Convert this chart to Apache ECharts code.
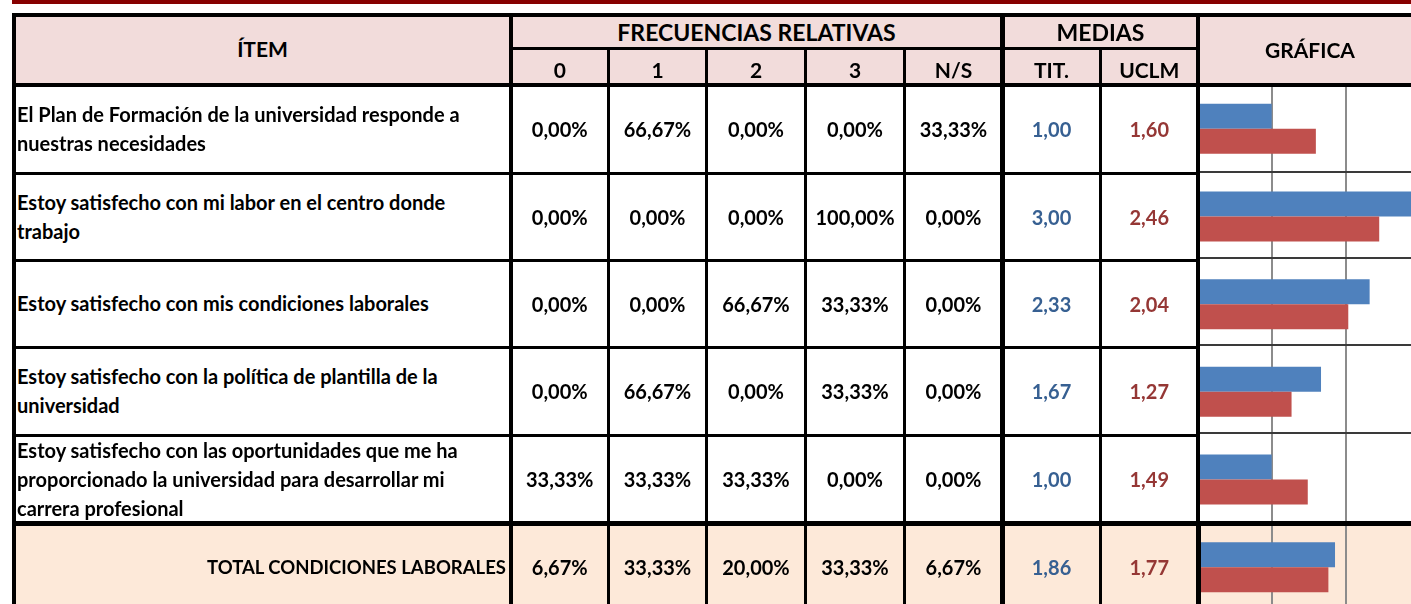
<!DOCTYPE html>
<html>
<head>
<meta charset="utf-8">
<script src="https://cdn.jsdelivr.net/npm/echarts@6/dist/echarts.min.js"></script>
<style>
html,body{margin:0;padding:0;width:1411px;height:604px;overflow:hidden;background:#fff;}
#page{position:relative;width:1411px;height:604px;overflow:hidden;font-family:Lato,'Noto Sans',sans-serif;font-weight:bold;color:#000;}
.bg{position:absolute;z-index:0;}
.ln{position:absolute;z-index:2;}
.c{position:absolute;display:flex;align-items:center;justify-content:center;font-size:20px;white-space:nowrap;z-index:3;}
#chart{position:absolute;left:1198px;top:85px;width:221px;height:526px;z-index:1;}
</style>
</head>
<body>
<div id="page"><div id="chart"></div></div>
<script>
// table content
var items = [
    'El Plan de Formación de la universidad responde a\nnuestras necesidades',
    'Estoy satisfecho con mi labor en el centro donde\ntrabajo',
    'Estoy satisfecho con mis condiciones laborales',
    'Estoy satisfecho con la política de plantilla de la\nuniversidad',
    'Estoy satisfecho con las oportunidades que me ha\nproporcionado la universidad para desarrollar mi\ncarrera profesional'
];
var totalLabel = 'TOTAL CONDICIONES LABORALES';
var freqHeaders = ['0', '1', '2', '3', 'N/S'];
var meanHeaders = ['TIT.', 'UCLM'];

// relative frequencies (%), last value = total row
var pct0  = [0, 0, 0, 0, 33.33, 6.67];
var pct1  = [66.67, 0, 0, 66.67, 33.33, 33.33];
var pct2  = [0, 0, 66.67, 0, 33.33, 20.00];
var pct3  = [0, 100, 33.33, 33.33, 0, 33.33];
var pctNS = [33.33, 0, 0, 0, 0, 6.67];
// means
var meanTit  = [1.00, 3.00, 2.33, 1.67, 1.00, 1.86];
var meanUclm = [1.60, 2.46, 2.04, 1.27, 1.49, 1.77];

var page = document.getElementById('page');
function box(cls, x1, y1, x2, y2, css) {
    var d = document.createElement('div');
    d.className = cls;
    d.style.left = x1 + 'px';
    d.style.top = y1 + 'px';
    d.style.width = (x2 - x1) + 'px';
    d.style.height = (y2 - y1) + 'px';
    if (css) d.style.cssText += css;
    page.appendChild(d);
    return d;
}
function cell(x1, y1, x2, y2, text, css) {
    var d = box('c', x1, y1, x2, y2, css);
    d.innerHTML = text.split('\n').join('<br>');
    return d;
}
function fmt(v, suf) {
    return v.toFixed(2).replace('.', ',') + (suf || '');
}

var colX = [16, 511, 608.5, 706.5, 805.5, 904.5, 1002.5, 1100.5, 1198, 1420];
var rowY = [85, 173.5, 260, 347, 435, 523.5, 611];

// backgrounds
box('bg', 12, 0, 1411, 4, 'background:#860000');
box('bg', 12, 15, 1411, 85, 'background:#F2DCDB');
box('bg', 12, 523, 1411, 604, 'background:#FDE9D9');

// header text
cell(16, 17, 509, 80, 'ÍTEM', 'font-size:21px');
cell(513, 17, 1000, 47, 'FRECUENCIAS RELATIVAS', 'font-size:23px');
cell(1005, 17, 1196, 47, 'MEDIAS', 'font-size:23px');
cell(1200, 17, 1420, 82, 'GRÁFICA', 'font-size:21px');
freqHeaders.forEach(function(h, i) {
    cell(colX[i + 1], 52, colX[i + 2], 86, h, 'font-size:21px');
});
meanHeaders.forEach(function(h, i) {
    cell(colX[i + 6], 52, colX[i + 7], 86, h, 'font-size:21px');
});

// body text
var pcts = [pct0, pct1, pct2, pct3, pctNS];
for (var r = 0; r < 6; r++) {
    var y1 = rowY[r], y2 = rowY[r + 1];
    if (r < 5) {
        cell(17, y1, 509, y2, items[r], 'justify-content:flex-start;text-align:left;line-height:29px');
    } else {
        cell(16, y1, 506, y2, totalLabel, 'justify-content:flex-end;font-size:18.5px');
    }
    for (var k = 0; k < 5; k++) {
        cell(colX[k + 1], y1, colX[k + 2], y2, fmt(pcts[k][r], '%'));
    }
    cell(colX[6], y1, colX[7], y2, fmt(meanTit[r]), 'color:#376092');
    cell(colX[7], y1, colX[8], y2, fmt(meanUclm[r]), 'color:#953735');
}

// borders
box('ln', 12, 13, 1411, 17, 'background:#000');
box('ln', 511, 47, 1198, 50, 'background:#000');
box('ln', 12, 83, 1411, 87, 'background:#000');
[173.5, 260, 347, 435].forEach(function(y) {
    box('ln', 12, y - 1.5, 1198, y + 1.5, 'background:#000');
    box('ln', 1198, y - 3, 1411, y - 1, 'background:#3a3a3a');
});
box('ln', 12, 521, 1411, 526, 'background:#000');
box('ln', 12, 13, 16, 604, 'background:#000');
box('ln', 509, 13, 513, 604, 'background:#000');
box('ln', 1000, 13, 1005, 604, 'background:#000');
box('ln', 1196, 13, 1200, 604, 'background:#000');
box('ln', 1196, 521, 1201, 604, 'background:#000');
[608.5, 706.5, 805.5, 904.5, 1100.5].forEach(function(x) {
    box('ln', x - 1.5, 47, x + 1.5, 604, 'background:#000');
});

// bars in the GRÁFICA column
var myChart = echarts.init(document.getElementById('chart'));
var option = {
    animation: false,
    grid: {left: 0, right: 0, top: 0, bottom: 0, outerBoundsMode: 'none'},
    xAxis: {
        type: 'value',
        min: 0,
        max: 3,
        interval: 1,
        axisLabel: {show: false},
        axisLine: {show: false},
        axisTick: {show: false},
        splitLine: {show: true, lineStyle: {color: '#8c8c8c', width: 2}}
    },
    yAxis: {
        type: 'category',
        inverse: true,
        data: items.concat([totalLabel]),
        axisLabel: {show: false},
        axisLine: {show: false},
        axisTick: {show: false}
    },
    series: [
        {name: 'TIT.', type: 'bar', data: meanTit, barWidth: 25, barGap: '0%', itemStyle: {color: '#4F81BD'}},
        {name: 'UCLM', type: 'bar', data: meanUclm, barWidth: 25, barGap: '0%', itemStyle: {color: '#C0504D'}}
    ]
};
myChart.setOption(option);
</script>
</body>
</html>
